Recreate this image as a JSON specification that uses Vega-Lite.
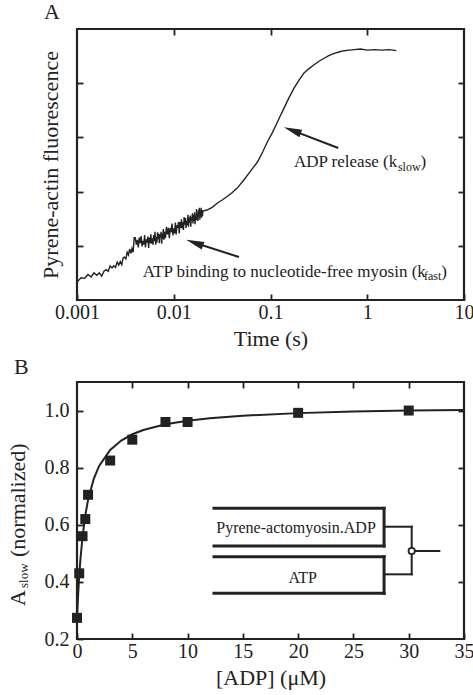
{
  "$schema": "https://vega.github.io/schema/vega-lite/v6.json",
  "background": "white",
  "padding": {"left": 5, "top": 0, "right": 5, "bottom": 5},
  "spacing": 82,
  "bounds": "flush",
  "config": {
    "font": "Liberation Serif",
    "view": {"stroke": "#222", "strokeWidth": 2.2},
    "axis": {"grid": false, "domain": false, "ticks": true, "tickColor": "#222", "tickWidth": 1.8, "tickSize": -6, "labelFont": "Liberation Serif", "labelFontSize": 20, "labelColor": "#222", "labelPadding": 8, "labelFlush": false, "titleFont": "Liberation Serif", "titleFontSize": 22, "titleFontWeight": "normal", "titleColor": "#222"},
    "title": {"font": "Liberation Serif", "fontSize": 22, "fontWeight": "normal", "color": "#222", "anchor": "start", "frame": "group", "baseline": "alphabetic"},
    "text": {"font": "Liberation Serif", "color": "#222"}
  },
  "datasets": {
    "trace": [
      {"t":0.0010,"f":0.33},{"t":0.0011,"f":0.41},{"t":0.0012,"f":0.40},{"t":0.0013,"f":0.47},{"t":0.0014,"f":0.425},{"t":0.0015,"f":0.50},{"t":0.0016,"f":0.455},{"t":0.0017,"f":0.50},{"t":0.0018,"f":0.44},{"t":0.0019,"f":0.53},
      {"t":0.0020,"f":0.56},{"t":0.0021,"f":0.53},{"t":0.0022,"f":0.63},{"t":0.0023,"f":0.59},{"t":0.0024,"f":0.63},{"t":0.0025,"f":0.60},{"t":0.0026,"f":0.70},{"t":0.0027,"f":0.645},{"t":0.0028,"f":0.71},{"t":0.0029,"f":0.65},
      {"t":0.0030,"f":0.78},{"t":0.0031,"f":0.79},{"t":0.0032,"f":0.76},{"t":0.0033,"f":0.88},{"t":0.0034,"f":0.83},{"t":0.0035,"f":0.94},{"t":0.0036,"f":0.86},{"t":0.0037,"f":0.95},{"t":0.0038,"f":0.88},{"t":0.0039,"f":1.15},
      {"t":0.0040,"f":1.15},{"t":0.0041,"f":1.02},{"t":0.0042,"f":1.11},{"t":0.0043,"f":0.97},{"t":0.0044,"f":1.15},{"t":0.0045,"f":1.05},{"t":0.0046,"f":1.18},{"t":0.0047,"f":0.99},{"t":0.0048,"f":1.09},{"t":0.0049,"f":1.02},
      {"t":0.0050,"f":1.20},{"t":0.0051,"f":0.97},{"t":0.0052,"f":1.12},{"t":0.0053,"f":1.06},{"t":0.0054,"f":1.17},{"t":0.0055,"f":0.96},{"t":0.0056,"f":1.15},{"t":0.0057,"f":1.05},{"t":0.0058,"f":1.21},{"t":0.0059,"f":1.04},
      {"t":0.0060,"f":1.14},{"t":0.0061,"f":1.02},{"t":0.0062,"f":1.20},{"t":0.0063,"f":1.09},{"t":0.0064,"f":1.26},{"t":0.0065,"f":1.02},{"t":0.0066,"f":1.16},{"t":0.0067,"f":1.06},{"t":0.0068,"f":1.25},{"t":0.0069,"f":1.12},
      {"t":0.0070,"f":1.22},{"t":0.0071,"f":1.05},{"t":0.0072,"f":1.21},{"t":0.0073,"f":1.16},{"t":0.0074,"f":1.26},{"t":0.0075,"f":1.04},{"t":0.0076,"f":1.22},{"t":0.0077,"f":1.13},{"t":0.0078,"f":1.31},{"t":0.0079,"f":1.11},
      {"t":0.0080,"f":1.26},{"t":0.0082,"f":1.14},{"t":0.0084,"f":1.35},{"t":0.0086,"f":1.21},{"t":0.0088,"f":1.33},{"t":0.0090,"f":1.14},{"t":0.0092,"f":1.33},{"t":0.0094,"f":1.25},{"t":0.0096,"f":1.41},{"t":0.0098,"f":1.19},
      {"t":0.0100,"f":1.32},{"t":0.0102,"f":1.23},{"t":0.0104,"f":1.43},{"t":0.0106,"f":1.21},{"t":0.0108,"f":1.38},{"t":0.0110,"f":1.33},{"t":0.0112,"f":1.44},{"t":0.0114,"f":1.23},{"t":0.0116,"f":1.44},{"t":0.0118,"f":1.33},
      {"t":0.0120,"f":1.49},{"t":0.0122,"f":1.32},{"t":0.0124,"f":1.44},{"t":0.0126,"f":1.29},{"t":0.0128,"f":1.53},{"t":0.0130,"f":1.39},{"t":0.0132,"f":1.51},{"t":0.0134,"f":1.33},{"t":0.0136,"f":1.46},{"t":0.0138,"f":1.38},
      {"t":0.0140,"f":1.57},{"t":0.0142,"f":1.35},{"t":0.0144,"f":1.52},{"t":0.0146,"f":1.43},{"t":0.0148,"f":1.56},{"t":0.0150,"f":1.35},{"t":0.0152,"f":1.53},{"t":0.0154,"f":1.47},{"t":0.0156,"f":1.60},{"t":0.0158,"f":1.41},
      {"t":0.0160,"f":1.57},{"t":0.0162,"f":1.46},{"t":0.0164,"f":1.62},{"t":0.0166,"f":1.40},{"t":0.0168,"f":1.56},{"t":0.0170,"f":1.47},{"t":0.0172,"f":1.68},{"t":0.0174,"f":1.47},{"t":0.0176,"f":1.60},{"t":0.0178,"f":1.46},
      {"t":0.0180,"f":1.66},{"t":0.0182,"f":1.55},{"t":0.0184,"f":1.70},{"t":0.0186,"f":1.48},{"t":0.0188,"f":1.65},{"t":0.0190,"f":1.54},{"t":0.0192,"f":1.70},{"t":0.0194,"f":1.52},{"t":0.0196,"f":1.66},{"t":0.0198,"f":1.55},
      {"t":0.0200,"f":1.64},{"t":0.022,"f":1.66},{"t":0.025,"f":1.71},{"t":0.0283,"f":1.79},{"t":0.032,"f":1.85},{"t":0.0395,"f":1.97},{"t":0.045,"f":2.06},{"t":0.0528,"f":2.21},{"t":0.06,"f":2.34},{"t":0.0735,"f":2.55},
      {"t":0.083,"f":2.73},{"t":0.093,"f":2.92},{"t":0.104,"f":3.08},{"t":0.114,"f":3.23},{"t":0.125,"f":3.38},{"t":0.138,"f":3.54},{"t":0.155,"f":3.73},{"t":0.175,"f":3.91},{"t":0.198,"f":4.06},{"t":0.222,"f":4.19},
      {"t":0.25,"f":4.27},{"t":0.282,"f":4.34},{"t":0.32,"f":4.41},{"t":0.358,"f":4.46},{"t":0.40,"f":4.51},{"t":0.456,"f":4.55},{"t":0.52,"f":4.58},{"t":0.579,"f":4.60},{"t":0.65,"f":4.61},{"t":0.735,"f":4.62},
      {"t":0.85,"f":4.63},{"t":1.0,"f":4.61},{"t":1.2,"f":4.62},{"t":1.4,"f":4.61},{"t":1.7,"f":4.62},{"t":2.0,"f":4.60}
    ],
    "arrows": [
      {"t":0.5007,"v":2.804,"t2":0.168,"v2":3.13},
      {"t":0.04725,"v":0.793,"t2":0.01642,"v2":1.057}
    ],
    "heads": [
      {"t":0.168,"v":3.13},
      {"t":0.01642,"v":1.057}
    ],
    "notes": [
      {"t":0.1749,"v":2.454,"text":"ADP release (k","role":"main"},
      {"t":2.074,"v":2.389,"text":"slow","role":"sub"},
      {"t":3.558,"v":2.454,"text":")","role":"main"},
      {"t":0.004776,"v":0.430,"text":"ATP binding to nucleotide-free myosin (k","role":"main"},
      {"t":3.86,"v":0.369,"text":"fast","role":"sub"},
      {"t":5.83,"v":0.430,"text":")","role":"main"}
    ],
    "fit": [
      {"c":0,"a":0.27},{"c":0.1,"a":0.353},{"c":0.2,"a":0.42},{"c":0.3,"a":0.475},{"c":0.5,"a":0.558},{"c":0.75,"a":0.633},{"c":1,"a":0.687},{"c":1.5,"a":0.759},{"c":2,"a":0.806},{"c":3,"a":0.862},{"c":4,"a":0.895},{"c":5,"a":0.917},{"c":6,"a":0.932},{"c":8,"a":0.952},{"c":10,"a":0.964},{"c":12,"a":0.973},{"c":15,"a":0.982},{"c":20,"a":0.991},{"c":25,"a":0.997},{"c":30,"a":1.0},{"c":35,"a":1.002}
    ],
    "points": [
      {"c":0,"a":0.274},{"c":0.2,"a":0.43},{"c":0.5,"a":0.56},{"c":0.75,"a":0.62},{"c":1,"a":0.705},{"c":3,"a":0.825},{"c":5,"a":0.898},{"c":8,"a":0.96},{"c":10,"a":0.96},{"c":20,"a":0.992},{"c":30,"a":1.0}
    ],
    "syringes": [
      {"c":12.39,"a":0.6576,"c2":27.77,"a2":0.6576},
      {"c":27.77,"a":0.6576,"c2":27.77,"a2":0.5256},
      {"c":12.39,"a":0.5256,"c2":27.77,"a2":0.5256},
      {"c":12.39,"a":0.4882,"c2":27.77,"a2":0.4882},
      {"c":27.77,"a":0.4882,"c2":27.77,"a2":0.36},
      {"c":12.39,"a":0.36,"c2":27.77,"a2":0.36}
    ],
    "mixer": [
      {"c":27.77,"a":0.5932,"c2":30.27,"a2":0.5932},
      {"c":30.27,"a":0.5932,"c2":30.27,"a2":0.4265},
      {"c":27.77,"a":0.4265,"c2":30.27,"a2":0.4265},
      {"c":30.27,"a":0.5081,"c2":32.77,"a2":0.5081}
    ],
    "mixpoint": [{"c":30.27,"a":0.5081}],
    "insetLabels": [
      {"c":19.81,"a":0.5897,"text":"Pyrene-actomyosin.ADP"},
      {"c":20.41,"a":0.4146,"text":"ATP"}
    ],
    "ytitleB": [
      {"c":-4.70,"a":0.3155,"text":"A","role":"main"},
      {"c":-4.43,"a":0.3786,"text":"slow","role":"sub"},
      {"c":-4.70,"a":0.4871,"text":"(normalized)","role":"main"}
    ]
  },
  "vconcat": [
    {
      "width": 387,
      "height": 271,
      "title": {"text": "A", "dx": -33, "offset": 4},
      "layer": [
        {
          "data": {"name": "trace"},
          "mark": {"type": "line", "color": "#222", "strokeWidth": 1.4},
          "encoding": {
            "x": {"field": "t", "type": "quantitative", "scale": {"type": "log", "domain": [0.001, 10], "nice": false},
                  "axis": {"orient": "bottom", "values": [0.001, 0.01, 0.1, 1, 10], "format": "~g", "title": "Time (s)", "titlePadding": 6}},
            "y": {"field": "f", "type": "quantitative", "scale": {"domain": [0, 5], "nice": false, "zero": false},
                  "axis": {"orient": "left", "values": [1, 2, 3, 4], "labels": false, "title": "Pyrene-actin fluorescence", "titlePadding": 14}}
          }
        },
        {
          "data": {"name": "arrows"},
          "mark": {"type": "rule", "color": "#222", "strokeWidth": 2},
          "encoding": {
            "x": {"field": "t", "type": "quantitative", "axis": {"orient": "top", "values": [0.01, 0.1, 1], "labels": false, "title": null}},
            "y": {"field": "v", "type": "quantitative", "axis": {"orient": "right", "values": [1, 2, 3, 4], "labels": false, "title": null}},
            "x2": {"field": "t2"},
            "y2": {"field": "v2"}
          }
        },
        {
          "data": {"name": "heads"},
          "mark": {"type": "point", "shape": "M0,-1L0.45,1L-0.45,1Z", "filled": true, "color": "#222", "opacity": 1, "size": 324, "angle": 290},
          "encoding": {
            "x": {"field": "t", "type": "quantitative", "axis": null},
            "y": {"field": "v", "type": "quantitative", "axis": null}
          }
        },
        {
          "data": {"name": "notes"},
          "transform": [{"filter": "datum.role == 'main'"}],
          "mark": {"type": "text", "align": "left", "baseline": "alphabetic", "fontSize": 17},
          "encoding": {
            "x": {"field": "t", "type": "quantitative", "axis": null},
            "y": {"field": "v", "type": "quantitative", "axis": null},
            "text": {"field": "text"}
          }
        },
        {
          "data": {"name": "notes"},
          "transform": [{"filter": "datum.role == 'sub'"}],
          "mark": {"type": "text", "align": "left", "baseline": "alphabetic", "fontSize": 12},
          "encoding": {
            "x": {"field": "t", "type": "quantitative", "axis": null},
            "y": {"field": "v", "type": "quantitative", "axis": null},
            "text": {"field": "text"}
          }
        }
      ],
      "resolve": {"axis": {"x": "independent", "y": "independent"}}
    },
    {
      "width": 387,
      "height": 257,
      "title": {"text": "B", "dx": -63, "offset": 2},
      "layer": [
        {
          "data": {"name": "fit"},
          "mark": {"type": "line", "color": "#222", "strokeWidth": 2},
          "encoding": {
            "x": {"field": "c", "type": "quantitative", "scale": {"domain": [0, 35], "nice": false},
                  "axis": {"orient": "bottom", "values": [0, 5, 10, 15, 20, 25, 30, 35], "title": "[ADP] (μM)", "titlePadding": 6}},
            "y": {"field": "a", "type": "quantitative", "scale": {"domain": [0.2, 1.1], "nice": false, "zero": false},
                  "axis": {"orient": "left", "values": [0.2, 0.4, 0.6, 0.8, 1.0], "format": ".1f", "title": null, "labelPadding": 14}}
          }
        },
        {
          "data": {"name": "points"},
          "mark": {"type": "point", "shape": "square", "filled": true, "color": "#222", "opacity": 1, "size": 100},
          "encoding": {
            "x": {"field": "c", "type": "quantitative", "axis": {"orient": "top", "values": [5, 10, 15, 20, 25, 30], "labels": false, "title": null}},
            "y": {"field": "a", "type": "quantitative", "axis": {"orient": "right", "values": [0.4, 0.6, 0.8, 1.0], "labels": false, "title": null}}
          }
        },
        {
          "data": {"name": "syringes"},
          "mark": {"type": "rule", "color": "#222", "strokeWidth": 3, "strokeCap": "square"},
          "encoding": {
            "x": {"field": "c", "type": "quantitative", "axis": null},
            "y": {"field": "a", "type": "quantitative", "axis": null},
            "x2": {"field": "c2"},
            "y2": {"field": "a2"}
          }
        },
        {
          "data": {"name": "mixer"},
          "mark": {"type": "rule", "color": "#222", "strokeWidth": 2, "strokeCap": "square"},
          "encoding": {
            "x": {"field": "c", "type": "quantitative", "axis": null},
            "y": {"field": "a", "type": "quantitative", "axis": null},
            "x2": {"field": "c2"},
            "y2": {"field": "a2"}
          }
        },
        {
          "data": {"name": "mixpoint"},
          "mark": {"type": "point", "shape": "circle", "filled": true, "fill": "white", "stroke": "#222", "strokeWidth": 1.8, "opacity": 1, "size": 40},
          "encoding": {
            "x": {"field": "c", "type": "quantitative", "axis": null},
            "y": {"field": "a", "type": "quantitative", "axis": null}
          }
        },
        {
          "data": {"name": "insetLabels"},
          "mark": {"type": "text", "align": "center", "baseline": "middle", "fontSize": 16},
          "encoding": {
            "x": {"field": "c", "type": "quantitative", "axis": null},
            "y": {"field": "a", "type": "quantitative", "axis": null},
            "text": {"field": "text"}
          }
        },
        {
          "data": {"name": "ytitleB"},
          "transform": [{"filter": "datum.role == 'main'"}],
          "mark": {"type": "text", "align": "left", "baseline": "alphabetic", "angle": 270, "fontSize": 22},
          "encoding": {
            "x": {"field": "c", "type": "quantitative", "axis": null},
            "y": {"field": "a", "type": "quantitative", "axis": null},
            "text": {"field": "text"}
          }
        },
        {
          "data": {"name": "ytitleB"},
          "transform": [{"filter": "datum.role == 'sub'"}],
          "mark": {"type": "text", "align": "left", "baseline": "alphabetic", "angle": 270, "fontSize": 13},
          "encoding": {
            "x": {"field": "c", "type": "quantitative", "axis": null},
            "y": {"field": "a", "type": "quantitative", "axis": null},
            "text": {"field": "text"}
          }
        }
      ],
      "resolve": {"axis": {"x": "independent", "y": "independent"}}
    }
  ]
}
